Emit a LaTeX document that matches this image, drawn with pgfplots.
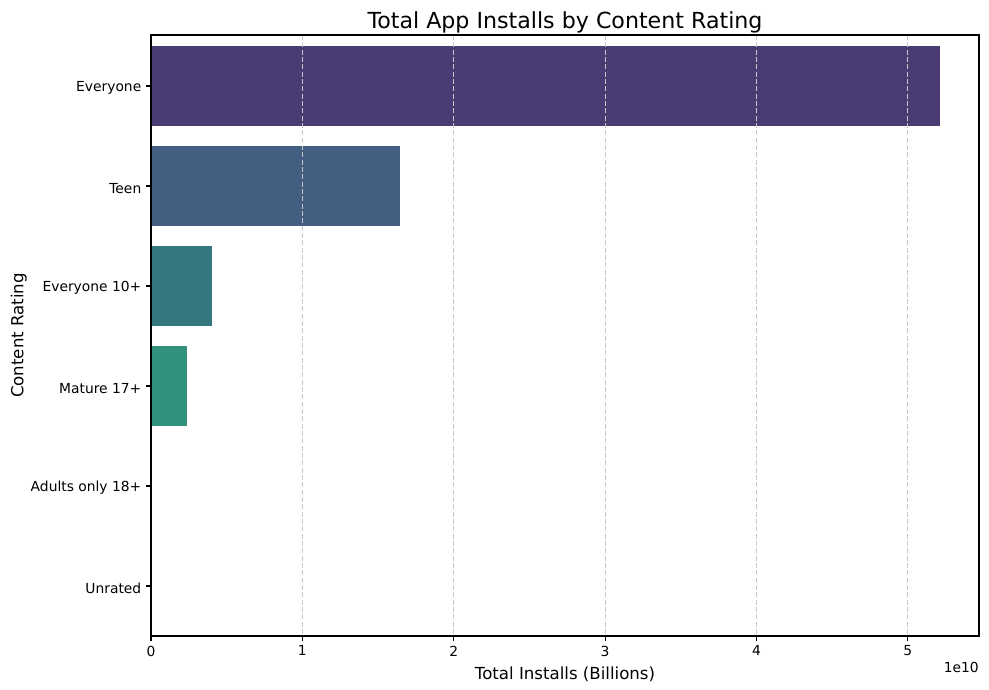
\documentclass[border=0pt]{standalone}
\usepackage{fontspec}
\setmainfont{DejaVu Sans}
\usepackage{pgfplots}
\pgfplotsset{compat=1.18}

\definecolor{cEveryone}{HTML}{4B3B73}
\definecolor{cTeen}{HTML}{425E80}
\definecolor{cTen}{HTML}{36767E}
\definecolor{cMature}{HTML}{31917D}
\definecolor{cAdults}{HTML}{3FA86B}
\definecolor{cUnrated}{HTML}{7BBF55}
\definecolor{gridc}{HTML}{C8C8C8}

\begin{document}
\begin{tikzpicture}[x=1in,y=1in]
\useasboundingbox (-1.51,-0.54) rectangle (8.38,6.36);
\begin{axis}[
    at={(0,0)}, anchor=south west,
    scale only axis,
    width=8.28in, height=6.01in,
    xbar, bar width=0.8, bar shift=0pt,
    xmin=0, xmax=5.47,
    ymin=-0.51, ymax=5.5, y dir=reverse,
    ytick={0,1,2,3,4,5},
    yticklabels={Everyone, Teen, Everyone 10+, Mature 17+, Adults only 18+, Unrated},
    xtick={0,1,2,3,4,5},
    tick align=outside, tick pos=left,
    major tick length=3.5pt,
    tick style={black, line width=0.8pt},
    /pgf/number format/assume math mode=true,
    ticklabel style={font=\fontsize{10}{12}\selectfont},
    yticklabel style={yshift=-1.5pt},
    xmajorgrids,
    grid style={gridc, line width=0.8pt, dash pattern=on 3.7pt off 1.6pt},
    axis on top,
    axis line style={line width=0.8pt},
    title={Total App Installs by Content Rating},
    title style={font=\fontsize{16}{19}\selectfont, yshift=-8pt},
    xlabel={Total Installs (Billions)},
    ylabel={Content Rating},
    label style={font=\fontsize{12}{14}\selectfont},
    xlabel style={yshift=-1pt},
    ylabel style={yshift=-4pt},
    clip=false,
]
\addplot[fill=cEveryone, draw=none] coordinates {(5.215,0)};
\addplot[fill=cTeen, draw=none] coordinates {(1.645,1)};
\addplot[fill=cTen, draw=none] coordinates {(0.400,2)};
\addplot[fill=cMature, draw=none] coordinates {(0.240,3)};
\addplot[fill=cAdults, draw=none] coordinates {(0.0003,4)};
\addplot[fill=cUnrated, draw=none] coordinates {(0.00001,5)};
\node[anchor=north east, font=\fontsize{10}{12}\selectfont, inner sep=0pt]
    at (rel axis cs:1,0) [yshift=-0.26in] {1e10};
\end{axis}
\end{tikzpicture}
\end{document}
